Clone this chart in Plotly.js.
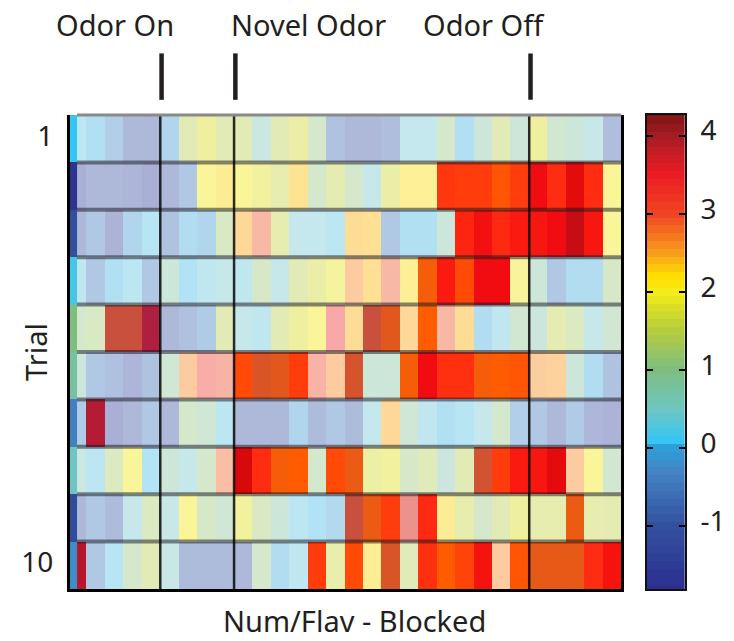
<!DOCTYPE html>
<html><head><meta charset="utf-8">
<script src="https://cdn.plot.ly/plotly-3.0.1.min.js"></script>
<style>html,body{margin:0;padding:0;background:#fff}#c{width:734px;height:641px}</style>
</head><body><div id="c"></div>
<script>
const trialLabels=[1,2,3,4,5,6,7,8,9,10];
const columnEdges=[0,1,2,3,4,5,6,7,8,9,10,11,12,13,14,15,16,17,18,19,20,21,22,23,24,25,26,27,28,29,30];
const trial1=[0.3,0.1,-0.2,-0.6,-0.6,-0.1,1.3,1.6,1.3,1.3,0.6,1.3,1.5,1.0,-0.4,-0.6,-0.6,-0.5,0.4,0.4,1.0,0.1,0.7,1.3,0.7,1.6,0.9,0.7,0.5,-0.5];
const trial2=[-0.9,-0.6,-0.6,-0.7,-0.9,-0.6,-0.3,1.9,2.1,1.9,1.7,1.4,2.25,1.0,1.35,1.0,0.45,1.5,2.0,2.0,3.15,3.1,3.1,2.95,3.1,3.7,3.25,3.75,3.25,1.9];
const trial3=[-0.6,-0.3,-0.8,-0.1,0.25,-0.4,0,-0.1,1.1,2.4,2.6,1.4,0.4,0.4,0.3,2.35,2.3,-0.3,0.1,0.1,0.7,3.35,3.65,3.3,3.5,3.55,3.7,3.9,3.55,1.9];
const trial4=[0.35,-0.3,0.1,0.3,-0.3,0.7,0.15,0.35,0.45,0.35,1.05,0.45,1.3,1.5,1.75,2.5,2.3,2.6,2.05,2.88,3.5,3.0,3.7,3.7,1.85,0.7,-0.3,0,0,1.05];
const trial5=[0.95,1.1,2.78,2.78,4.1,-0.6,-0.45,-0.25,1.3,0.45,0.35,1.3,1.6,1.9,2.7,2.35,2.78,2.84,2.4,2.92,2.6,2.35,0,0.35,0.9,0.65,1.35,1.15,0.45,0.85];
const trial6=[0.65,-0.3,-0.45,-0.7,-0.4,0.8,2.5,2.67,2.63,3.0,2.82,2.84,3.1,2.63,2.5,2.81,0.7,0.7,2.88,3.7,3.2,3.2,2.88,2.92,2.95,2.48,2.45,0.7,0,-0.4];
const trial7=[-0.25,4.05,-0.9,-0.6,-0.3,-0.6,1.0,0.8,0.3,-0.6,-0.6,-0.6,-0.1,-0.55,-0.3,-0.55,0.4,2.4,0.8,0.35,0.1,0.25,0.45,0.95,-0.2,-0.3,-0.6,-0.25,-0.65,-0.8];
const trial8=[0.6,0.3,1.15,1.9,0.2,0.75,0.45,1.0,2.57,3.8,3.25,2.88,2.92,0.95,3.0,2.86,1.55,1.7,1.05,1.25,0.65,1.3,2.8,3.1,3.5,3.55,3.75,2.5,1.9,0.9];
const trial9=[-0.6,-0.3,-0.55,0.45,1.15,0.5,1.9,1.05,0.8,1.7,1.1,0.7,0.3,0.15,-0.05,2.78,2.86,3.1,2.72,3.3,2.1,1.4,1.0,1.3,1.6,1.4,1.4,2.86,1.4,1.35];
const trial10=[4.0,-0.3,0.25,1.0,1.3,0.55,-0.55,-0.55,-0.55,-0.6,1.0,0,0.35,3.1,1.45,3.0,2.1,2.82,1.25,3.2,2.92,3.05,3.6,2.5,2.95,2.85,2.85,2.85,3.25,3.6];
const onsetStrip=[0.1,-1.7,-1.05,0.2,1.0,0.75,-0.35,0.5,-1.1,-0.2];
const rampValues=[-1.8,-1.7,-1.6,-1.5,-1.4,-1.3,-1.2,-1.1,-1.0,-0.9,-0.8,-0.7,-0.6,-0.5,-0.4,-0.3,-0.2,-0.1,0,0.1,0.2,0.3,0.4,0.5,0.6,0.7,0.8,0.9,1.0,1.1,1.2,1.3,1.4,1.5,1.6,1.7,1.8,1.9,2.0,2.1,2.2,2.3,2.4,2.5,2.6,2.7,2.8,2.9,3.0,3.1,3.2,3.3,3.4,3.5,3.6,3.7,3.8,3.9,4.0,4.1,4.2,4.3];
const cellStops=[-1.0,-0.6,-0.3,0,0.2,0.4,0.7,1.0,1.3,1.6,1.9,2.2,2.4,2.5,2.6,2.7,2.78,2.84,2.9,3.0,3.2,3.5,3.7,3.85,4.1];
const cellColors=['#A9ACD3','#AEB9DA','#B0C8E4','#B2DCF0','#B2E4F6','#C5E8EE','#CDE6DA','#D5E8CC','#E2EBB5','#EEF0A0','#FBF59A','#FDE890','#FDD898','#FCCCA0','#F8B8A6','#F8A8A8','#C8503C','#E2581C','#FF6000','#FF4A08','#FF3010','#FA1A10','#F00C10','#CC0808','#AE2040'];
const barStops=[-1.8,-1.0,-0.3,0,0.1,0.5,1.0,1.5,2.0,2.2,2.5,3.0,3.5,4.0,4.3];
const barColors=['#2B2F8F','#33509F','#4484C4','#2E9FD8','#37C6F4','#6FC5C0','#7DBE80','#B5CC3C','#F3EC18','#FFDD00','#F99D1C','#EF4423','#ED1C24','#A51C24','#7A1414'];
const eventEdges=[5,9,25];
const eventNames=['Odor On','Novel Odor','Odor Off'];

const toScale=(stops,cols)=>{const a=stops[0],b=stops[stops.length-1];return stops.map((s,i)=>[(s-a)/(b-a),cols[i]]);};
const font='"Noto Sans", "Open Sans", sans-serif';
const ink='#231f20';
const trials=[trial1,trial2,trial3,trial4,trial5,trial6,trial7,trial8,trial9,trial10];

const data=[
 {type:'heatmap',x:columnEdges,y:trialLabels,z:trials,zmin:cellStops[0],zmax:cellStops[cellStops.length-1],colorscale:toScale(cellStops,cellColors),showscale:false,hoverinfo:'skip'},
 {type:'heatmap',x:[0,0.485],y:trialLabels,z:onsetStrip.map(v=>[v]),zmin:barStops[0],zmax:barStops[barStops.length-1],colorscale:toScale(barStops,barColors),showscale:false,hoverinfo:'skip'},
 {type:'heatmap',x:[0,1],y:rampValues,z:rampValues.map(v=>[v]),zmin:barStops[0],zmax:barStops[barStops.length-1],colorscale:toScale(barStops,barColors),showscale:false,xaxis:'x2',yaxis:'y2',hoverinfo:'skip'}
];

const shapes=[];
for(let r=1;r<10;r++) shapes.push({type:'line',xref:'x',yref:'y',x0:0.485,x1:30,y0:r+0.5,y1:r+0.5,line:{color:'rgba(20,20,30,0.5)',width:4}});
eventEdges.forEach(e=>{
 shapes.push({type:'line',xref:'x',yref:'y',x0:e,x1:e,y0:0.5,y1:10.5,line:{color:'rgba(0,0,0,0.82)',width:2.5}});
 shapes.push({type:'line',xref:'x',yref:'paper',x0:e+0.07,x1:e+0.07,y0:1.032,y1:1.13,line:{color:ink,width:4.5}});
});
shapes.push({type:'line',xref:'x',yref:'paper',x0:0.485,x1:30,y0:1,y1:1,line:{color:'#8a8a8a',width:3}});

const note=(px,py,text,extra)=>Object.assign({xref:'paper',yref:'paper',x:(px-70)/615,y:(589-py)/474,text:text,showarrow:false,xanchor:'center',yanchor:'middle',font:{size:29,family:font,color:ink}},extra||{});

const layout={
 width:734,height:641,paper_bgcolor:'#fff',plot_bgcolor:'#fff',showlegend:false,
 margin:{l:70,r:49,t:115,b:52,pad:0},
 font:{family:font,color:ink,size:28},
 xaxis:{domain:[0,0.8967],range:[0.106,30],showticklabels:false,ticks:'',showgrid:false,zeroline:false,showline:true,linecolor:'#000',linewidth:3},
 yaxis:{range:[10.5,0.5],tickmode:'array',tickvals:[1,10],ticktext:['1','10'],ticks:'',ticklabelstandoff:8,ticklabelshift:3,showgrid:false,zeroline:false,showline:true,linecolor:'#000',linewidth:3,mirror:true,
   tickfont:{size:28,family:font,color:ink}},
 xaxis2:{domain:[0.9377,1],range:[0,1],anchor:'y2',showticklabels:false,ticks:'',showgrid:false,zeroline:false,showline:true,linecolor:'#111',linewidth:2,mirror:true},
 yaxis2:{domain:[0,1],range:[-1.81,4.265],anchor:'x2',side:'right',tickmode:'array',tickvals:[-1,0,1,2,3,4],ticktext:['-1','0','1','2','3','4'],ticks:'inside',ticklen:6,tickwidth:2,tickcolor:'#000',ticklabelstandoff:8,ticklabelshift:-5,showgrid:false,zeroline:false,showline:true,linecolor:'#111',linewidth:2,mirror:'ticks',tickfont:{size:28,family:font,color:ink}},
 shapes:shapes,
 annotations:[
  note(115,24,eventNames[0]),
  note(308,24,eventNames[1]),
  note(484,24,eventNames[2]),
  note(354,620,'Num/Flav - Blocked'),
  note(35,352,'Trial',{textangle:-90})
 ]
};
Plotly.newPlot('c',data,layout,{displayModeBar:false,staticPlot:true});
</script></body></html>
